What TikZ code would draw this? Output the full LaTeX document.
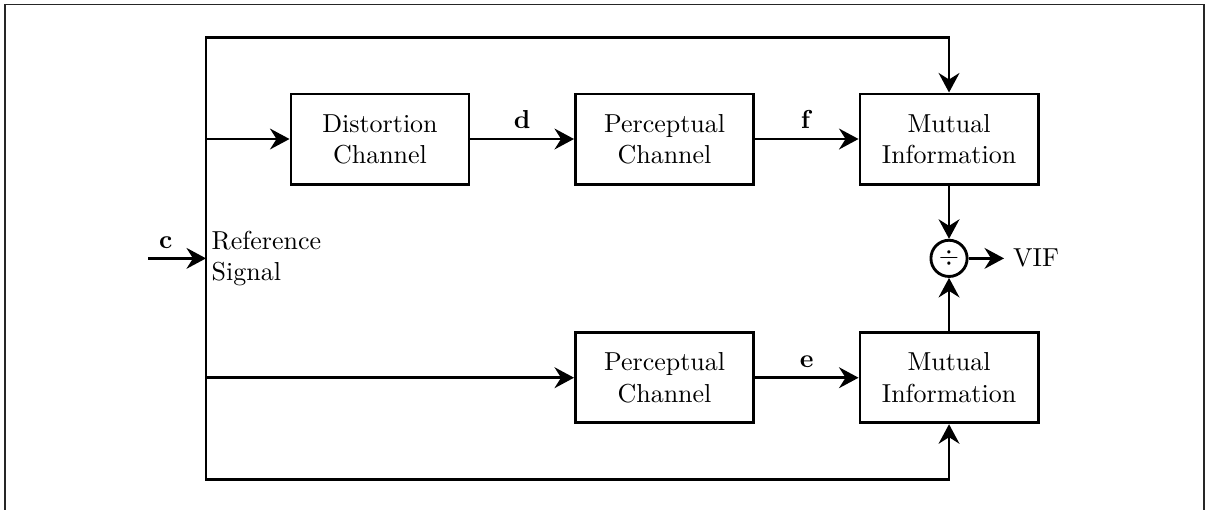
\documentclass[tikz,border=0pt]{standalone}
\usepackage{amsmath}
\usetikzlibrary{positioning}
\usetikzlibrary{calc}
\usetikzlibrary{arrows.meta}

\begin{document}
\begin{tikzpicture}[block/.style={draw, line width=1.1pt, minimum width=2.41cm, minimum height=1.22cm, align=center},
    divnode/.style={draw, circle, line width=1.1pt, minimum size=0.49cm, inner sep=0pt},
    arrow/.style={-{Stealth[length=7.5pt, width=8pt, inset=2.5pt]}, line width=1.1pt},
    node distance=3.85cm,
]
\useasboundingbox (-5.142,1.881) rectangle (11.177,-5.020);
\draw[line width=0.6pt, color=black!85] (-5.074,-5.1) -- (-5.074,1.82) -- (11.15,1.82) -- (11.15,-5.1);

\node[block] (dist) at (0,0) {Distortion\\Channel};
\node[block, right of=dist] (perc1) {Perceptual\\Channel};
\node[block, right of=perc1] (mi1) {Mutual\\Information};
\node[block, below of=perc1, yshift=0.62cm] (perc2) {Perceptual\\Channel};
\node[block, below of=mi1, yshift=0.62cm] (mi2) {Mutual\\Information};
\node[divnode] (div) at ($(mi1)!0.5!(mi2)$) {$\div$};
\node[right=0.48cm of div] (vif) {VIF};

\coordinate (refin) at ($(dist.west |- div)+(-1.13,0)$);
\coordinate (trunk_top) at ($(refin |- dist)+(0,1.373)$);
\coordinate (trunk_bot) at ($(refin |- perc2)+(0,-1.38)$);
\coordinate[left=0.78cm of refin] (input);

\node[anchor=west, align=left, inner sep=2pt] at (refin) {Reference\\Signal};

\draw[arrow] (input) -- node[above, pos=0.3] {$\mathbf{c}$} (refin);
\draw[arrow] (refin) -- (trunk_top) -| (mi1.north);
\draw[arrow] (refin) -- (trunk_bot) -| (mi2.south);
\draw[arrow] (refin |- dist) -- (dist);
\draw[arrow] (refin |- perc2) -- (perc2);

\draw[arrow] (dist) -- node[above] {$\mathbf{d}$} (perc1);
\draw[arrow] (perc1) -- node[above] {$\mathbf{f}$} (mi1);
\draw[arrow] (perc2) -- node[above] {$\mathbf{e}$} (mi2);
\draw[arrow] (mi1) -- (div);
\draw[arrow] (mi2) -- (div);
\draw[arrow] (div) -- (vif);

\end{tikzpicture}
\end{document}
